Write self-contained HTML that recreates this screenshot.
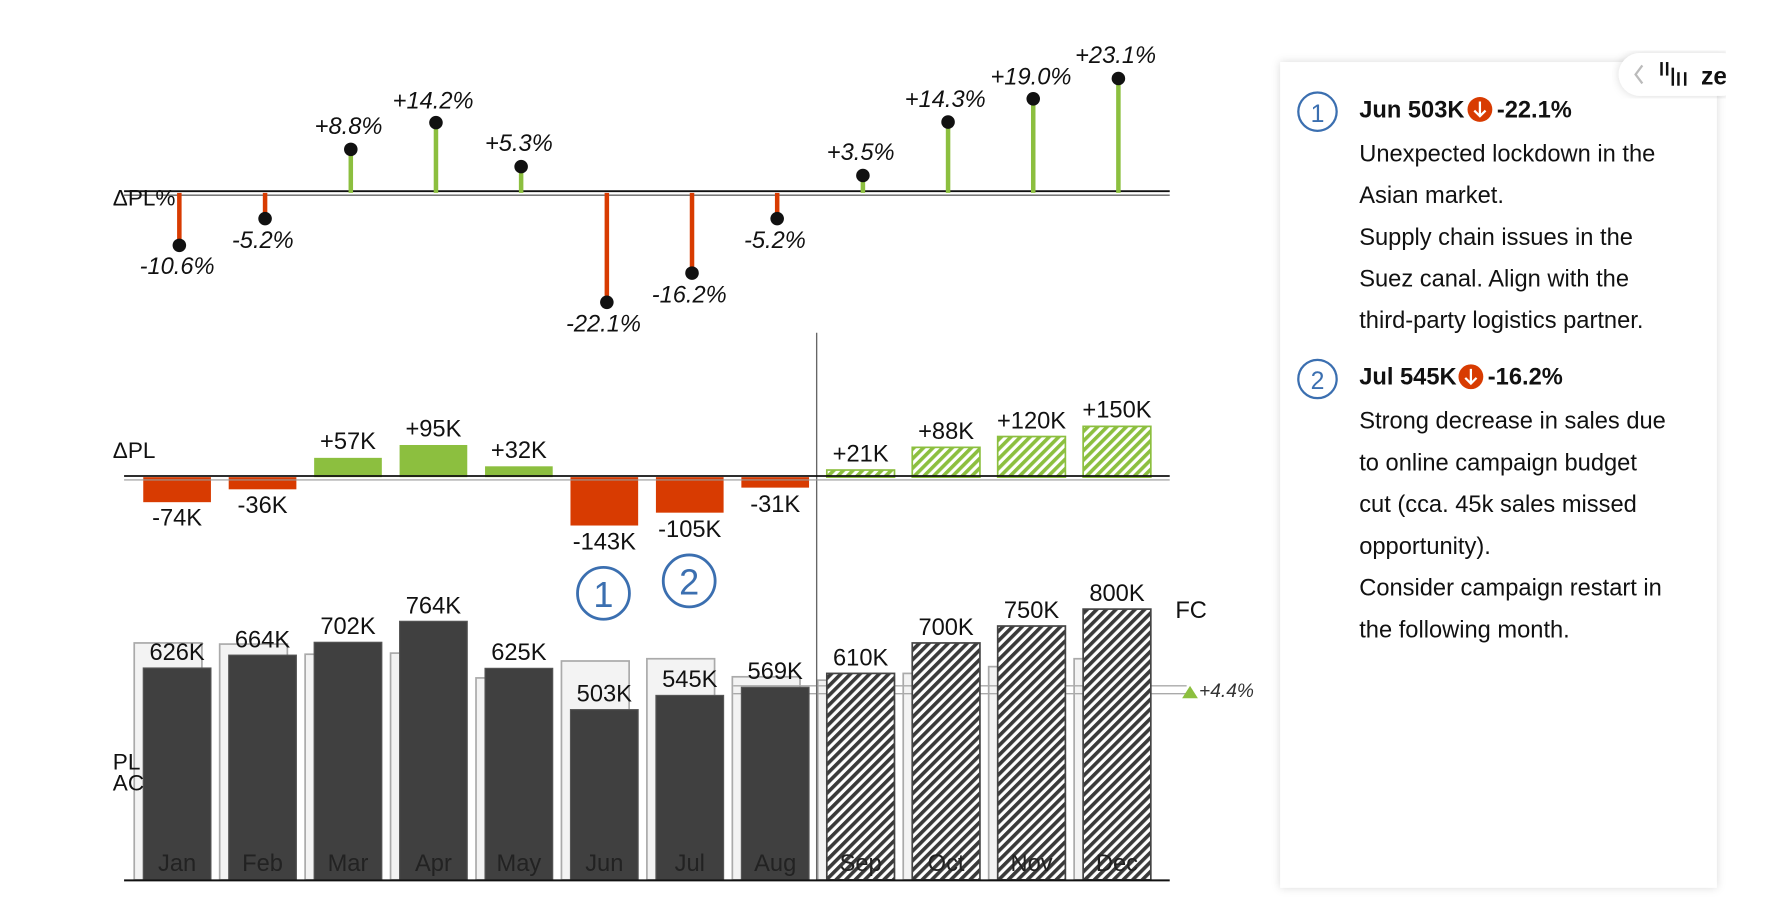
<!DOCTYPE html>
<html><head><meta charset="utf-8"><style>
html,body{margin:0;padding:0;background:#fff;width:1768px;height:921px;overflow:hidden}
svg{display:block}
text{font-family:"Liberation Sans",sans-serif}
</style></head><body>
<svg width="1768" height="921" viewBox="0 0 1567.4 816.5" xmlns="http://www.w3.org/2000/svg">
<defs>
<pattern id="hd" patternUnits="userSpaceOnUse" width="6" height="6" patternTransform="rotate(45)">
<rect width="6" height="6" fill="#fff"/><rect width="3.2" height="6" fill="#3a3a3a"/></pattern>
<pattern id="hg" patternUnits="userSpaceOnUse" width="6" height="6" patternTransform="rotate(45)">
<rect width="6" height="6" fill="#fff"/><rect width="3.2" height="6" fill="#8cbf3f"/></pattern>
<filter id="sh" x="-5%" y="-5%" width="110%" height="110%"><feDropShadow dx="0" dy="0" stdDeviation="4" flood-color="#000" flood-opacity="0.15"/></filter>
</defs>

<!-- PY bars -->
<g fill="#f3f3f3" stroke="#aaa" stroke-width="1.5">
<rect x="119" y="570" width="60" height="210"/>
<rect x="194.75" y="571" width="60" height="209"/>
<rect x="270.5" y="580" width="60" height="200"/>
<rect x="346.25" y="579" width="60" height="201"/>
<rect x="422" y="601" width="60" height="179"/>
<rect x="497.75" y="586" width="60" height="194"/>
<rect x="573.5" y="584" width="60" height="196"/>
<rect x="649.25" y="600" width="60" height="180"/>
<rect x="725" y="603" width="60" height="177"/>
<rect x="800.75" y="597" width="60" height="183"/>
<rect x="876.5" y="591" width="60" height="189"/>
<rect x="952.25" y="584" width="60" height="196"/>
</g>
<!-- FC reference lines -->
<line x1="650" y1="608" x2="1052" y2="608" stroke="#aaa" stroke-width="1.2"/>
<line x1="650" y1="615" x2="1052" y2="615" stroke="#aaa" stroke-width="1.2"/>
<polygon points="1048,619 1055,608 1062,619" fill="#8cbf3f"/>
<text x="1063" y="618" font-size="17" font-style="italic" fill="#333">+4.4%</text>
<!-- AC bars -->
<g fill="#404040" stroke="#555" stroke-width="1">
<rect x="127" y="592.2" width="60" height="187.8"/>
<rect x="202.75" y="580.8" width="60" height="199.2"/>
<rect x="278.5" y="569.4" width="60" height="210.6"/>
<rect x="354.25" y="550.8" width="60" height="229.2"/>
<rect x="430" y="592.5" width="60" height="187.5"/>
<rect x="505.75" y="629.1" width="60" height="150.9"/>
<rect x="581.5" y="616.5" width="60" height="163.5"/>
<rect x="657.25" y="609.3" width="60" height="170.7"/>
</g>
<g fill="url(#hd)" stroke="#444" stroke-width="1.5">
<rect x="733" y="597" width="60" height="183"/>
<rect x="808.75" y="570" width="60" height="210"/>
<rect x="884.5" y="555" width="60" height="225"/>
<rect x="960.25" y="540" width="60" height="240"/>
</g>
<line x1="724" y1="295" x2="724" y2="780" stroke="#666" stroke-width="1.2"/>
<line x1="110" y1="780.5" x2="1037" y2="780.5" stroke="#111" stroke-width="1.8"/>
<g font-size="21" fill="#111" text-anchor="middle">
<text x="157" y="585">626K</text><text x="232.75" y="574">664K</text><text x="308.5" y="562">702K</text>
<text x="384.25" y="544">764K</text><text x="460" y="585">625K</text><text x="535.75" y="622">503K</text>
<text x="611.5" y="609">545K</text><text x="687.25" y="602">569K</text><text x="763" y="590">610K</text>
<text x="838.75" y="563">700K</text><text x="914.5" y="548">750K</text><text x="990.25" y="533">800K</text>
</g>
<g font-size="21" fill="#222" text-anchor="middle">
<text x="157" y="772">Jan</text><text x="232.75" y="772">Feb</text><text x="308.5" y="772">Mar</text>
<text x="384.25" y="772">Apr</text><text x="460" y="772">May</text><text x="535.75" y="772">Jun</text>
<text x="611.5" y="772">Jul</text><text x="687.25" y="772">Aug</text><text x="763" y="772">Sep</text>
<text x="838.75" y="772">Oct</text><text x="914.5" y="772">Nov</text><text x="990.25" y="772">Dec</text>
</g>
<text x="1042" y="548" font-size="21" fill="#111">FC</text>
<text x="100" y="682" font-size="20" fill="#111">PL</text>
<text x="100" y="701" font-size="20" fill="#111">AC</text>

<!-- circled annotations -->
<circle cx="535" cy="526" r="23" fill="none" stroke="#3b6fb0" stroke-width="2.5"/>
<text x="535" y="538" font-size="32" fill="#3b6fb0" text-anchor="middle">1</text>
<circle cx="611" cy="515" r="23" fill="none" stroke="#3b6fb0" stroke-width="2.5"/>
<text x="611" y="527" font-size="32" fill="#3b6fb0" text-anchor="middle">2</text>

<!-- Delta PL -->
<g fill="#d83b01">
<rect x="127" y="423" width="60" height="22.2"/>
<rect x="202.75" y="423" width="60" height="10.8"/>
<rect x="505.75" y="423" width="60" height="42.9"/>
<rect x="581.5" y="423" width="60" height="31.5"/>
<rect x="657.25" y="423" width="60" height="9.3"/>
</g>
<g fill="#8cbf3f">
<rect x="278.5" y="405.9" width="60" height="17.1"/>
<rect x="354.25" y="394.5" width="60" height="28.5"/>
<rect x="430" y="413.4" width="60" height="9.6"/>
</g>
<g fill="url(#hg)" stroke="#8cbf3f" stroke-width="1.5">
<rect x="733" y="416.7" width="60" height="6.3"/>
<rect x="808.75" y="396.6" width="60" height="26.4"/>
<rect x="884.5" y="387" width="60" height="36"/>
<rect x="960.25" y="378" width="60" height="45"/>
</g>
<line x1="110" y1="422" x2="1037" y2="422" stroke="#111" stroke-width="1.6"/>
<line x1="110" y1="425.5" x2="1037" y2="425.5" stroke="#999" stroke-width="1"/>
<text x="100" y="406" font-size="20" fill="#111">ΔPL</text>
<g font-size="21" fill="#111" text-anchor="middle">
<text x="157" y="466">-74K</text><text x="232.75" y="455">-36K</text><text x="308.5" y="398">+57K</text>
<text x="384.25" y="387">+95K</text><text x="460" y="406">+32K</text><text x="535.75" y="487">-143K</text>
<text x="611.5" y="476">-105K</text><text x="687.25" y="454">-31K</text><text x="763" y="409">+21K</text>
<text x="838.75" y="389">+88K</text><text x="914.5" y="380">+120K</text><text x="990.25" y="370">+150K</text>
</g>

<!-- Delta PL% -->
<line x1="110" y1="169.5" x2="1037" y2="169.5" stroke="#111" stroke-width="1.6"/>
<line x1="110" y1="173" x2="1037" y2="173" stroke="#666" stroke-width="1.2"/>
<g stroke-width="4">
<line x1="159" y1="171" x2="159" y2="217.5" stroke="#d83b01"/>
<line x1="235" y1="171" x2="235" y2="193.8" stroke="#d83b01"/>
<line x1="311" y1="171" x2="311" y2="132.4" stroke="#8cbf3f"/>
<line x1="386.5" y1="171" x2="386.5" y2="108.7" stroke="#8cbf3f"/>
<line x1="462" y1="171" x2="462" y2="147.7" stroke="#8cbf3f"/>
<line x1="538" y1="171" x2="538" y2="268" stroke="#d83b01"/>
<line x1="613.5" y1="171" x2="613.5" y2="242.1" stroke="#d83b01"/>
<line x1="689" y1="171" x2="689" y2="193.8" stroke="#d83b01"/>
<line x1="765" y1="171" x2="765" y2="155.6" stroke="#8cbf3f"/>
<line x1="840.5" y1="171" x2="840.5" y2="108.2" stroke="#8cbf3f"/>
<line x1="916" y1="171" x2="916" y2="87.6" stroke="#8cbf3f"/>
<line x1="991.5" y1="171" x2="991.5" y2="69.6" stroke="#8cbf3f"/>
</g>
<g fill="#111">
<circle cx="159" cy="217.5" r="6"/><circle cx="235" cy="193.8" r="6"/><circle cx="311" cy="132.4" r="6"/>
<circle cx="386.5" cy="108.7" r="6"/><circle cx="462" cy="147.7" r="6"/><circle cx="538" cy="268" r="6"/>
<circle cx="613.5" cy="242.1" r="6"/><circle cx="689" cy="193.8" r="6"/><circle cx="765" cy="155.6" r="6"/>
<circle cx="840.5" cy="108.2" r="6"/><circle cx="916" cy="87.6" r="6"/><circle cx="991.5" cy="69.6" r="6"/>
</g>
<text x="100" y="182" font-size="20" fill="#111">ΔPL%</text>
<g font-size="21" font-style="italic" fill="#111" text-anchor="middle">
<text x="157" y="243">-10.6%</text><text x="233" y="220">-5.2%</text><text x="309" y="119">+8.8%</text>
<text x="384" y="96">+14.2%</text><text x="460" y="134">+5.3%</text><text x="535" y="294">-22.1%</text>
<text x="611" y="268">-16.2%</text><text x="687" y="220">-5.2%</text><text x="763" y="142">+3.5%</text>
<text x="838" y="95">+14.3%</text><text x="914" y="75">+19.0%</text><text x="989" y="56">+23.1%</text>
</g>

<!-- Right panel -->
<rect x="1135" y="55" width="387" height="732" fill="#fff" filter="url(#sh)"/>
<rect x="1435" y="47" width="110" height="38" rx="19" fill="#fff" filter="url(#sh)"/>
<polyline points="1456,58 1450,66 1456,74" fill="none" stroke="#bbb" stroke-width="2"/>
<g stroke="#111" stroke-width="2.2">
<line x1="1473" y1="55" x2="1473" y2="67"/><line x1="1478" y1="55" x2="1478" y2="67"/>
<line x1="1483" y1="60" x2="1483" y2="76"/><line x1="1488" y1="64" x2="1488" y2="76"/><line x1="1494" y1="64" x2="1494" y2="76"/>
</g>
<text x="1508" y="75" font-size="22" font-weight="bold" fill="#111">ze</text>
<rect x="1530" y="40" width="40" height="60" fill="#fff"/>

<circle cx="1168" cy="99" r="17" fill="none" stroke="#3b6fb0" stroke-width="2"/>
<text x="1168" y="108" font-size="22" fill="#3b6fb0" text-anchor="middle">1</text>
<text x="1205" y="104" font-size="21" font-weight="bold" fill="#111">Jun 503K</text>
<circle cx="1312" cy="97" r="11" fill="#d83b01"/>
<path d="M1312,90 V103 M1307,98 L1312,103 L1317,98" stroke="#fff" stroke-width="2" fill="none"/>
<text x="1327" y="104" font-size="21" font-weight="bold" fill="#111">-22.1%</text>
<g font-size="21" fill="#111">
<text x="1205" y="143">Unexpected lockdown in the</text>
<text x="1205" y="180">Asian market.</text>
<text x="1205" y="217">Supply chain issues in the</text>
<text x="1205" y="254">Suez canal. Align with the</text>
<text x="1205" y="291">third-party logistics partner.</text>
</g>
<circle cx="1168" cy="336" r="17" fill="none" stroke="#3b6fb0" stroke-width="2"/>
<text x="1168" y="345" font-size="22" fill="#3b6fb0" text-anchor="middle">2</text>
<text x="1205" y="341" font-size="21" font-weight="bold" fill="#111">Jul 545K</text>
<circle cx="1304" cy="334" r="11" fill="#d83b01"/>
<path d="M1304,327 V340 M1299,335 L1304,340 L1309,335" stroke="#fff" stroke-width="2" fill="none"/>
<text x="1319" y="341" font-size="21" font-weight="bold" fill="#111">-16.2%</text>
<g font-size="21" fill="#111">
<text x="1205" y="380">Strong decrease in sales due</text>
<text x="1205" y="417">to online campaign budget</text>
<text x="1205" y="454">cut (cca. 45k sales missed</text>
<text x="1205" y="491">opportunity).</text>
<text x="1205" y="528">Consider campaign restart in</text>
<text x="1205" y="565">the following month.</text>
</g>
</svg>
</body></html>
